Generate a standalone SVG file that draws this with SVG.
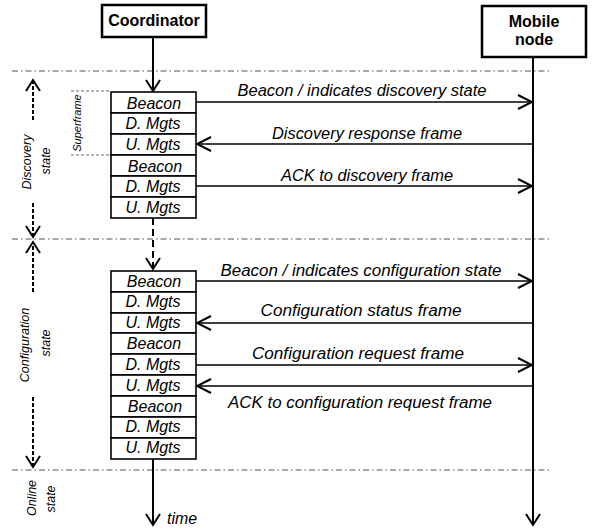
<svg xmlns="http://www.w3.org/2000/svg" width="592" height="531" viewBox="0 0 592 531">
<style>
  .bg{fill:#fff}
  .box{fill:#fff;stroke:#000;stroke-width:2.5}
  .cell{fill:#fff;stroke:#000;stroke-width:1.6}
  .bold{font-family:"Liberation Sans",Arial,sans-serif;font-weight:bold;font-size:16px;fill:#000;text-anchor:middle}
  .cellt{font-family:"Liberation Sans",Arial,sans-serif;font-style:italic;font-size:16px;fill:#000;text-anchor:middle}
  .lbl{font-family:"Liberation Sans",Arial,sans-serif;font-style:italic;font-size:16px;fill:#000;text-anchor:middle}
  .side{font-family:"Liberation Sans",Arial,sans-serif;font-style:italic;font-size:12.5px;fill:#000;text-anchor:middle}
  .small{font-family:"Liberation Sans",Arial,sans-serif;font-style:italic;font-size:11px;fill:#000;text-anchor:middle}
  .msg{stroke:#000;stroke-width:1.6;fill:none}
  .life{stroke:#000;stroke-width:2;fill:none}
  .dashlife{stroke:#000;stroke-width:2;fill:none;stroke-dasharray:7,4}
  .sep{stroke:#555;stroke-width:1;fill:none;stroke-dasharray:6,3,1.5,3}
  .sf{stroke:#666;stroke-width:1;fill:none;stroke-dasharray:3,2}
  .mark{stroke:#000;stroke-width:2;fill:none;stroke-dasharray:4,2}
</style>
<defs>
  <marker id="ah" viewBox="-16 -8 18 16" refX="0" refY="0" markerWidth="18" markerHeight="16" markerUnits="userSpaceOnUse" orient="auto">
    <path d="M-14,-7 L0,0 L-14,7" fill="none" stroke="#000" stroke-width="2"/>
  </marker>
  <marker id="ahs" viewBox="-16 -8 18 16" refX="0" refY="0" markerWidth="18" markerHeight="16" markerUnits="userSpaceOnUse" orient="auto">
    <path d="M-11,-7 L0,0 L-11,7" fill="none" stroke="#000" stroke-width="2"/>
  </marker>
</defs>
<rect class="bg" x="0" y="0" width="592" height="531"/>

<g id="separators">
  <line class="sep" x1="12" y1="71" x2="550" y2="71"/>
  <line class="sep" x1="12" y1="239" x2="550" y2="239"/>
  <line class="sep" x1="12" y1="470" x2="550" y2="470"/>
  <line class="sf" x1="71" y1="91" x2="110" y2="91"/>
  <line class="sf" x1="71" y1="155" x2="110" y2="155"/>
</g>

<g id="state-labels">
  <text class="small" transform="translate(81,123) rotate(-90)">Superframe</text>
  <text class="side" transform="translate(31,162) rotate(-90)">Discovery</text>
  <text class="side" transform="translate(50,161) rotate(-90)">state</text>
  <text class="side" transform="translate(29,345) rotate(-90)">Configuration</text>
  <text class="side" transform="translate(50,343) rotate(-90)">state</text>
  <text class="side" transform="translate(36,498) rotate(-90)">Online</text>
  <text class="side" transform="translate(55,499) rotate(-90)">state</text>
</g>

<g id="state-markers">
  <line class="mark" x1="33" y1="120" x2="33" y2="80" marker-end="url(#ahs)"/>
  <line class="mark" x1="33" y1="203" x2="33" y2="237" marker-end="url(#ahs)"/>
  <line class="mark" x1="33" y1="292" x2="33" y2="242" marker-end="url(#ahs)"/>
  <line class="mark" x1="33" y1="397" x2="33" y2="467" marker-end="url(#ahs)"/>
</g>

<g id="coordinator">
  <rect class="box" x="102" y="5" width="104" height="32"/>
  <text class="bold" x="154" y="26">Coordinator</text>
</g>

<g id="mobile-node">
  <rect class="box" x="482" y="6" width="104" height="51"/>
  <text class="bold" x="534" y="27">Mobile</text>
  <text class="bold" x="534" y="45">node</text>
</g>

<g id="superframes-discovery">
  <rect class="cell" x="111" y="92" width="85" height="21"/>
  <rect class="cell" x="111" y="113" width="85" height="21"/>
  <rect class="cell" x="111" y="134" width="85" height="21"/>
  <rect class="cell" x="111" y="155" width="85" height="21"/>
  <rect class="cell" x="111" y="176" width="85" height="21"/>
  <rect class="cell" x="111" y="197" width="85" height="21"/>
  <text class="cellt" x="154" y="109">Beacon</text>
  <text class="cellt" x="153" y="129">D. Mgts</text>
  <text class="cellt" x="153" y="150">U. Mgts</text>
  <text class="cellt" x="155" y="172">Beacon</text>
  <text class="cellt" x="153" y="192">D. Mgts</text>
  <text class="cellt" x="153" y="213">U. Mgts</text>
</g>

<g id="superframes-configuration">
  <rect class="cell" x="111" y="271" width="85" height="21"/>
  <rect class="cell" x="111" y="292" width="85" height="21"/>
  <rect class="cell" x="111" y="313" width="85" height="20"/>
  <rect class="cell" x="111" y="333" width="85" height="21"/>
  <rect class="cell" x="111" y="354" width="85" height="21"/>
  <rect class="cell" x="111" y="375" width="85" height="21"/>
  <rect class="cell" x="111" y="396" width="85" height="21"/>
  <rect class="cell" x="111" y="417" width="85" height="21"/>
  <rect class="cell" x="111" y="438" width="85" height="21"/>
  <text class="cellt" x="154" y="287">Beacon</text>
  <text class="cellt" x="153" y="307">D. Mgts</text>
  <text class="cellt" x="153" y="328">U. Mgts</text>
  <text class="cellt" x="154" y="349">Beacon</text>
  <text class="cellt" x="153" y="370">D. Mgts</text>
  <text class="cellt" x="153" y="391">U. Mgts</text>
  <text class="cellt" x="155" y="412">Beacon</text>
  <text class="cellt" x="153" y="432">D. Mgts</text>
  <text class="cellt" x="153" y="453">U. Mgts</text>
</g>

<g id="connectors">
  <line class="life" x1="153" y1="37" x2="153" y2="91" marker-end="url(#ahs)"/>
  <line class="dashlife" x1="153" y1="218" x2="153" y2="269" marker-end="url(#ahs)"/>
  <line class="life" x1="153" y1="459" x2="153" y2="525" marker-end="url(#ahs)"/>
  <line class="life" x1="533" y1="57" x2="533" y2="525" marker-end="url(#ahs)"/>

  <line class="msg" x1="196" y1="102" x2="532" y2="102" marker-end="url(#ah)"/>
  <line class="msg" x1="533" y1="144" x2="197" y2="144" marker-end="url(#ah)"/>
  <line class="msg" x1="196" y1="186" x2="532" y2="186" marker-end="url(#ah)"/>
  <line class="msg" x1="196" y1="281" x2="532" y2="281" marker-end="url(#ah)"/>
  <line class="msg" x1="533" y1="323" x2="197" y2="323" marker-end="url(#ah)"/>
  <line class="msg" x1="196" y1="365" x2="532" y2="365" marker-end="url(#ah)"/>
  <line class="msg" x1="533" y1="386" x2="197" y2="386" marker-end="url(#ah)"/>
</g>

<g id="message-labels">
  <text class="lbl" x="362" y="96" textLength="249" lengthAdjust="spacingAndGlyphs">Beacon / indicates discovery state</text>
  <text class="lbl" x="367" y="139" textLength="190" lengthAdjust="spacingAndGlyphs">Discovery response frame</text>
  <text class="lbl" x="367" y="181" textLength="172" lengthAdjust="spacingAndGlyphs">ACK to discovery frame</text>
  <text class="lbl" x="361" y="276" textLength="281" lengthAdjust="spacingAndGlyphs">Beacon / indicates configuration state</text>
  <text class="lbl" x="361" y="316" textLength="201" lengthAdjust="spacingAndGlyphs">Configuration status frame</text>
  <text class="lbl" x="358" y="359" textLength="212" lengthAdjust="spacingAndGlyphs">Configuration request frame</text>
  <text class="lbl" x="360" y="408" textLength="264" lengthAdjust="spacingAndGlyphs">ACK to configuration request frame</text>
  <text class="lbl" x="182" y="524" textLength="30" lengthAdjust="spacingAndGlyphs">time</text>
</g>
</svg>
